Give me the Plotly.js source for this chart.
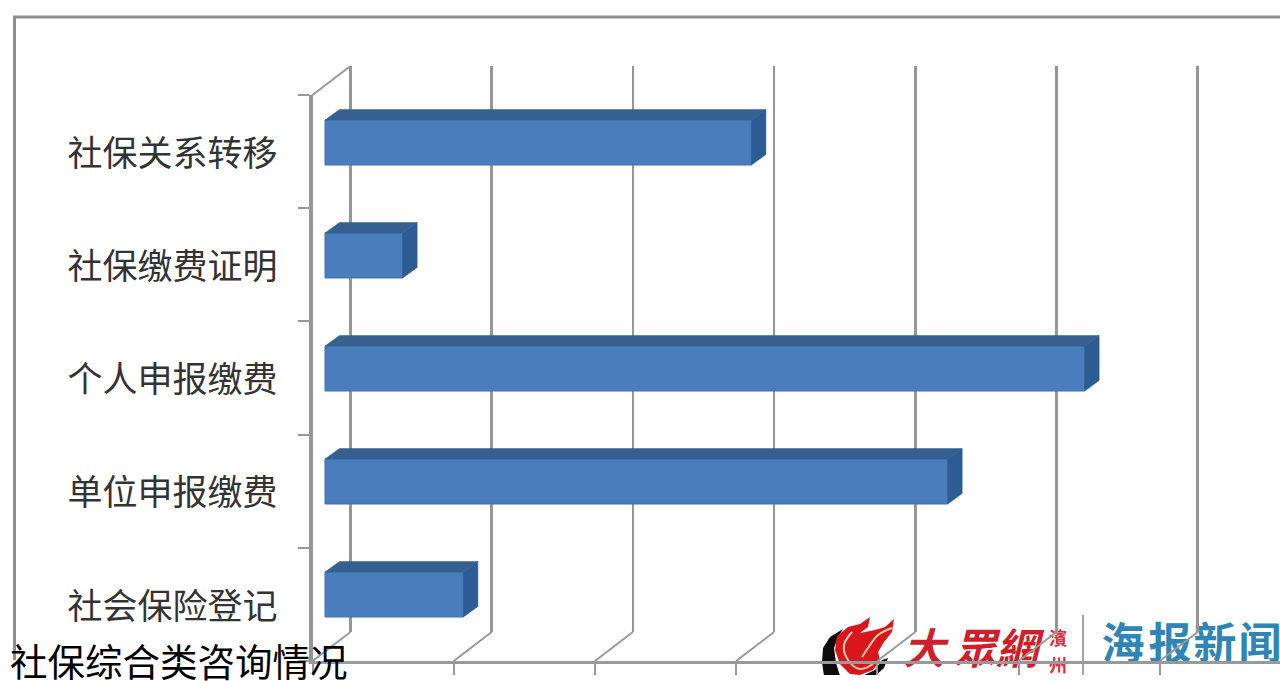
<!DOCTYPE html>
<html lang="zh">
<head>
<meta charset="utf-8">
<title>社保综合类咨询情况</title>
<script src="https://cdn.plot.ly/plotly-3.0.1.min.js"></script>
<style>html,body{margin:0;padding:0;background:#fff;overflow:hidden}</style>
</head>
<body>
<div id="chart"></div>
<script>
// Categories run bottom to top, the order a Plotly y axis uses.
const categories = ['社会保险登记', '单位申报缴费', '个人申报缴费', '社保缴费证明', '社保关系转移'];
const consultations = [98, 441, 538, 55, 302];
const gridValues = [0, 100, 200, 300, 400, 500, 600];
const chartTitle = '社保综合类咨询情况';

const W = 1280, H = 681;
const fontCJK = '"Noto Sans CJK SC", "Noto Sans", sans-serif';
const pxPerUnit = 1.412;          // horizontal scale of the value axes
const bandPx = 113;               // height of one category band on the bar axis
const barPx = 45;                 // height of a bar's front face
const indices = categories.map((_, i) => i);

// Vertical page positions expressed as a y-axis domain.
const domain = (topPx, bottomPx) => [1 - bottomPx / H, 1 - topPx / H];
// Range that puts value 0 at the given page column.
const rangeFrom = (zeroPx) => [-zeroPx / pxPerUnit, (W - zeroPx) / pxPerUnit];

// Box faces of the bars, built from the same values as the front faces.
const halfBar = barPx / bandPx / 2;
const boxDx = 14.5 / pxPerUnit, boxDy = 10.5 / bandPx;
const topX = [], topY = [], sideX = [], sideY = [];
consultations.forEach((v, i) => {
  const up = i + halfBar, down = i - halfBar;
  topX.push(0, v, v + boxDx, boxDx, 0, null);
  topY.push(up, up, up + boxDy, up + boxDy, up, null);
  sideX.push(v, v + boxDx, v + boxDx, v, v, null);
  sideY.push(down, down + boxDy, up + boxDy, up, down, null);
});

// Slanted floor lines and the top edge of the side wall, on the wall-depth axes.
const wallDepthX = 38 / pxPerUnit, wallDepthY = 29;
const wallHeight = 566;
const slantX = [], slantY = [];
gridValues.forEach((v) => {
  slantX.push(v, v - wallDepthX, null);
  slantY.push(0, -wallDepthY, null);
});
slantX.push(0, -wallDepthX);
slantY.push(wallHeight, wallHeight - wallDepthY);

// Publisher mark, in page pixels.
const crescentLeft = [[843,629],[830,637],[823,648],[822,662],[824,676],[840,676],[836,663],[834,648],[838,637]];
const crescentRight = [[888,658],[884,668],[875,676],[862,676],[875,670],[882,660]];
const flame = [[835,650],[837,636],[848,627],[860,624],[870,617],[868,627],[860,633],[875,630],[885,627],[894,619],[892,632],[884,642],[878,652],[880,660],[873,670],[860,675],[850,674],[840,664]];
const swirlA = [[852,632],[844,645],[848,660],[860,669],[873,664]];
const swirlB = [[892,628],[878,635],[868,648],[862,657]];
const polygon = (pts, color) => ({
  type: 'scatter', mode: 'lines', x: pts.map(p => p[0]).concat(pts[0][0]), y: pts.map(p => p[1]).concat(pts[0][1]),
  fill: 'toself', fillcolor: color, line: {width: 0, color: color}, xaxis: 'x', yaxis: 'y', hoverinfo: 'skip'
});
const curve = (pts, color, width) => ({
  type: 'scatter', mode: 'lines', x: pts.map(p => p[0]), y: pts.map(p => p[1]),
  line: {width: width, color: color, shape: 'spline'}, xaxis: 'x', yaxis: 'y', hoverinfo: 'skip'
});
const label = (chars, xs, ys, size, color, italic) => ({
  type: 'scatter', mode: 'text', x: xs, y: ys, text: chars, textposition: 'middle center',
  textfont: {family: fontCJK, size: size, color: color, weight: 700, style: italic ? 'italic' : 'normal'},
  xaxis: 'x', yaxis: 'y', hoverinfo: 'skip', cliponaxis: true
});

const traces = [
  polygon(crescentLeft, '#0c0c0c'),
  polygon(flame, '#d8171d'),
  polygon(crescentRight, '#0c0c0c'),
  curve(swirlA, '#f5cdb0', 2),
  curve(swirlB, '#f5cdb0', 2),
  label(['大', '眾', '網'], [924, 975, 1017], [653, 653, 653], 42, '#cf1f2c', true),
  label(['濱', '州'], [1058, 1058], [640, 667], 18, '#d8303a', false),
  curve([[1083, 615], [1083, 676]], '#a4a4a4', 2),
  label(['海', '报', '新', '闻'], [1123, 1170, 1215, 1260], [648, 648, 648, 648], 43, '#2f86b4', false),
  // Back wall: the grid comes from this axis pair.
  {type: 'scatter', mode: 'lines', x: [0], y: [0], line: {width: 0},
   xaxis: 'x2', yaxis: 'y2', hoverinfo: 'skip'},
  // Side wall and floor: carries the category labels.
  {type: 'bar', orientation: 'h', y: categories, x: consultations, opacity: 0,
   xaxis: 'x3', yaxis: 'y3', hoverinfo: 'skip'},
  // Bars.
  {type: 'scatter', mode: 'lines', x: topX, y: topY, fill: 'toself', fillcolor: '#35608f',
   line: {width: 0.5, color: '#35608f'}, xaxis: 'x4', yaxis: 'y4', hoverinfo: 'skip'},
  {type: 'scatter', mode: 'lines', x: sideX, y: sideY, fill: 'toself', fillcolor: '#2d5b93',
   line: {width: 0.5, color: '#2d5b93'}, xaxis: 'x4', yaxis: 'y4', hoverinfo: 'skip'},
  {type: 'bar', orientation: 'h', y: indices, x: consultations, width: barPx / bandPx,
   marker: {color: '#4a7dbc', line: {color: '#4373b0', width: 1}},
   xaxis: 'x4', yaxis: 'y4', hoverinfo: 'skip'},
  // Slants between the front and back walls.
  {type: 'scatter', mode: 'lines', x: slantX, y: slantY,
   line: {color: '#999999', width: 2}, xaxis: 'x5', yaxis: 'y5', hoverinfo: 'skip'}
];

const hiddenAxis = {showgrid: false, showline: false, zeroline: false, showticklabels: false, ticks: '', fixedrange: true};

const layout = {
  width: W, height: H, autosize: false,
  margin: {l: 0, r: 0, t: 0, b: 0, pad: 0},
  paper_bgcolor: '#ffffff', plot_bgcolor: 'rgba(0,0,0,0)',
  showlegend: false, hovermode: false,
  title: {
    text: chartTitle, x: 10 / W, xref: 'paper', xanchor: 'left',
    y: 1 - 663 / H, yref: 'container', yanchor: 'middle', pad: {t: 0, b: 0, l: 0, r: 0},
    font: {family: fontCJK, size: 37.5, color: '#000000'}
  },
  xaxis: Object.assign({}, hiddenAxis, {domain: [0, 1], range: [0, W], anchor: 'y'}),
  yaxis: Object.assign({}, hiddenAxis, {domain: [0, 1], range: [H, 0], anchor: 'x'}),
  xaxis2: {
    domain: [0, 1], range: rangeFrom(350.5), anchor: 'y2',
    tickmode: 'array', tickvals: gridValues, showticklabels: false, ticks: '',
    showgrid: true, gridcolor: '#969696', gridwidth: 2.5, zeroline: false, showline: false, fixedrange: true
  },
  yaxis2: Object.assign({}, hiddenAxis, {domain: domain(66, 632), range: [0, wallHeight], anchor: 'x2'}),
  xaxis3: {
    domain: [312.5 / W, 1], range: [0, (W - 312.5) / pxPerUnit], anchor: 'y3',
    tickmode: 'array', tickvals: gridValues, showticklabels: false, ticks: 'outside', ticklen: 11,
    tickwidth: 2, tickcolor: '#999999', showline: true, linecolor: '#999999', linewidth: 2.5,
    showgrid: false, zeroline: false, fixedrange: true
  },
  yaxis3: {
    domain: domain(95, 661), anchor: 'x3', type: 'category',
    categoryorder: 'array', categoryarray: categories, range: [-0.5, categories.length - 0.5],
    tickson: 'boundaries', ticks: 'outside', ticklen: 11, tickwidth: 2, tickcolor: '#999999',
    showline: true, linecolor: '#959595', linewidth: 4, ticklabelstandoff: 24, ticklabelshift: 2,
    tickfont: {family: fontCJK, size: 35, color: '#333333'},
    showgrid: false, zeroline: false, fixedrange: true
  },
  xaxis4: Object.assign({}, hiddenAxis, {domain: [0, 1], range: rangeFrom(325), anchor: 'y4'}),
  yaxis4: Object.assign({}, hiddenAxis, {domain: domain(86, 651), range: [-0.5, categories.length - 0.5], anchor: 'x4'}),
  xaxis5: Object.assign({}, hiddenAxis, {domain: [0, 1], range: rangeFrom(350.5), anchor: 'y5'}),
  yaxis5: Object.assign({}, hiddenAxis, {domain: domain(66, 661), range: [-wallDepthY, wallHeight], anchor: 'x5'}),
  shapes: [
    // Chart frame: top and left edges.
    {type: 'path', xref: 'paper', yref: 'paper', layer: 'above',
     path: `M ${14.5 / W} ${1 - 660 / H} L ${14.5 / W} ${1 - 17 / H} L 1 ${1 - 17 / H}`,
     line: {color: '#8e8e8e', width: 3}, fillcolor: 'rgba(0,0,0,0)'},
    // White strip along the page foot.
    {type: 'rect', xref: 'paper', yref: 'paper', layer: 'above',
     x0: 360 / W, x1: 1, y0: 0, y1: 1 - 675 / H,
     line: {width: 0}, fillcolor: '#ffffff'}
  ]
};

Plotly.newPlot('chart', traces, layout, {displayModeBar: false, staticPlot: true});
</script>
</body>
</html>
